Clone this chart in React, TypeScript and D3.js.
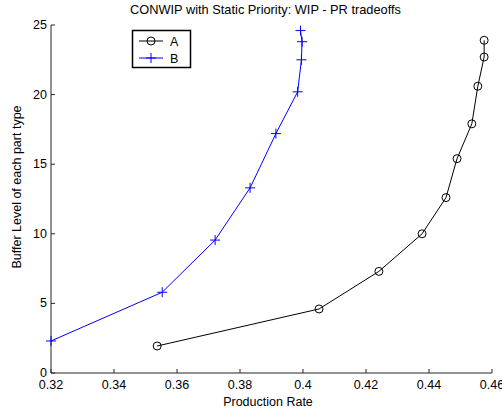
import React from "react";
import * as d3 from "d3";

const seriesAx = [0.3537, 0.4051, 0.4241, 0.4378, 0.4454, 0.4489, 0.4536, 0.4555, 0.4575, 0.4575];
const seriesAy = [1.94, 4.6, 7.3, 10.0, 12.6, 15.4, 17.9, 20.6, 22.7, 23.9];
const seriesBx = [0.32, 0.3553, 0.3721, 0.3832, 0.3914, 0.3983, 0.3995, 0.3997, 0.3992];
const seriesBy = [2.3, 5.8, 9.55, 13.3, 17.2, 20.2, 22.5, 23.8, 24.6];
const xTicks = [0.32, 0.34, 0.36, 0.38, 0.4, 0.42, 0.44, 0.46];
const yTicks = [0, 5, 10, 15, 20, 25];
const legendLabels = ["A", "B"];

const W = 502, H = 411;
const L = 51, R = 492, T = 25, B = 373;
const font = "'Liberation Sans', Arial, Helvetica, sans-serif";
const FS = 12.5;

export default function App() {
  const x = d3.scaleLinear().domain([0.32, 0.46]).range([L, R]);
  const y = d3.scaleLinear().domain([0, 25]).range([B, T]);
  const line = d3.line<[number, number]>().x(d => x(d[0])).y(d => y(d[1]));
  const A: [number, number][] = seriesAx.map((v, i) => [v, seriesAy[i]]);
  const Bp: [number, number][] = seriesBx.map((v, i) => [v, seriesBy[i]]);
  const plus = (cx: number, cy: number, s = 5) => `M${cx - s},${cy}H${cx + s}M${cx},${cy - s}V${cy + s}`;
  const axisColor = "#262626";
  return (
    <svg width={W} height={H} style={{ position: "absolute", left: 0, top: 0, background: "#fff" }} fontFamily={font}>
      <rect x={0} y={0} width={W} height={H} fill="#fff" />
      <text x={265.5} y={14} textAnchor="middle" fontSize={12.8} fill="#000">CONWIP with Static Priority: WIP - PR tradeoffs</text>
      {/* axes */}
      <line x1={L} x2={R} y1={B} y2={B} stroke={axisColor} strokeWidth={1} />
      <line x1={L} x2={L} y1={T} y2={B} stroke={axisColor} strokeWidth={1} />
      {xTicks.map(t => (
        <g key={"x" + t}>
          <line x1={x(t)} x2={x(t)} y1={B} y2={B - 4} stroke={axisColor} />
          <text x={x(t)} y={B + 16} textAnchor="middle" fontSize={FS} fill="#000">{d3.format("")(t)}</text>
        </g>
      ))}
      {yTicks.map(t => (
        <g key={"y" + t}>
          <line x1={L} x2={L + 4} y1={y(t)} y2={y(t)} stroke={axisColor} />
          <text x={L - 4} y={y(t) + 4} textAnchor="end" fontSize={FS} fill="#000">{t}</text>
        </g>
      ))}
      <text x={268} y={406} textAnchor="middle" fontSize={FS} fill="#000">Production Rate</text>
      <text transform={`translate(21,187) rotate(-90)`} textAnchor="middle" fontSize={FS} fill="#000">Buffer Level of each part type</text>
      {/* series A */}
      <path d={line(A) || ""} fill="none" stroke="#000" strokeWidth={1} />
      {A.map((d, i) => (
        <circle key={"a" + i} cx={x(d[0])} cy={y(d[1])} r={4} fill="none" stroke="#000" strokeWidth={1} />
      ))}
      {/* series B */}
      <path d={line(Bp) || ""} fill="none" stroke="#0000ff" strokeWidth={1} />
      {Bp.map((d, i) => (
        <path key={"b" + i} d={plus(x(d[0]), y(d[1]))} stroke="#0000ff" strokeWidth={1} fill="none" />
      ))}
      {/* legend */}
      <rect x={132.5} y={30.5} width={58} height={37} fill="#fff" stroke="#000" strokeWidth={1.5} />
      <line x1={139} x2={163} y1={41} y2={41} stroke="#000" />
      <circle cx={151} cy={41} r={4} fill="none" stroke="#000" />
      <text x={170} y={45.5} fontSize={FS} fill="#000">{legendLabels[0]}</text>
      <line x1={139} x2={163} y1={58} y2={58} stroke="#0000ff" />
      <path d={plus(151, 58)} stroke="#0000ff" fill="none" />
      <text x={170} y={62.5} fontSize={FS} fill="#000">{legendLabels[1]}</text>
    </svg>
  );
}
